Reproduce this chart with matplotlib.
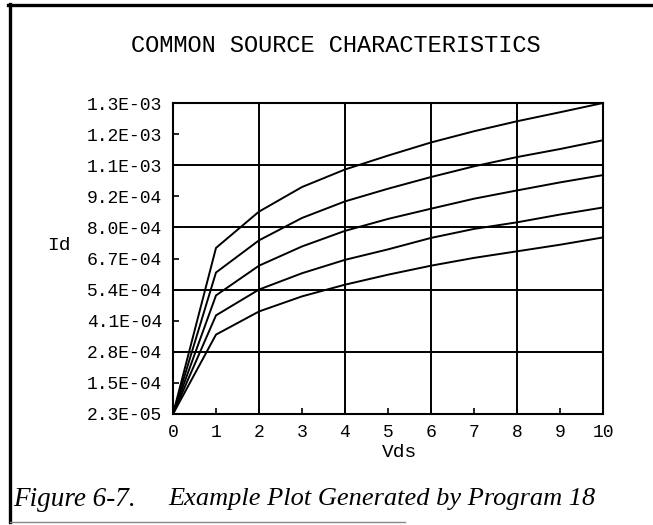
import numpy as np
import matplotlib
matplotlib.use("Agg")
import matplotlib.pyplot as plt
from matplotlib.lines import Line2D

# drain voltage steps
vds = [0, 1, 2, 3, 4, 5, 6, 7, 8, 9, 10]

# drain current for each gate bias, top curve first
id_1 = [2.3e-5, 7.05e-4, 8.54e-4, 9.55e-4, 1.027e-3, 1.084e-3, 1.138e-3, 1.184e-3, 1.225e-3, 1.262e-3, 1.300e-3]
id_2 = [2.3e-5, 6.04e-4, 7.36e-4, 8.28e-4, 8.96e-4, 9.48e-4, 9.96e-4, 1.040e-3, 1.078e-3, 1.111e-3, 1.147e-3]
id_3 = [2.3e-5, 5.10e-4, 6.32e-4, 7.11e-4, 7.75e-4, 8.24e-4, 8.66e-4, 9.07e-4, 9.41e-4, 9.74e-4, 1.004e-3]
id_4 = [2.3e-5, 4.28e-4, 5.34e-4, 6.01e-4, 6.56e-4, 6.99e-4, 7.46e-4, 7.83e-4, 8.10e-4, 8.42e-4, 8.71e-4]
id_5 = [2.3e-5, 3.49e-4, 4.44e-4, 5.06e-4, 5.54e-4, 5.95e-4, 6.32e-4, 6.64e-4, 6.91e-4, 7.18e-4, 7.48e-4]
curves = [id_1, id_2, id_3, id_4, id_5]

y_min, y_max = 2.3e-5, 1.3e-3
y_labels = ["2.3E-05", "1.5E-04", "2.8E-04", "4.1E-04", "5.4E-04", "6.7E-04",
            "8.0E-04", "9.2E-04", "1.1E-03", "1.2E-03", "1.3E-03"]
x_labels = ["0", "1", "2", "3", "4", "5", "6", "7", "8", "9", "10"]
grid_x = [2, 4, 6, 8]
grid_y_idx = [2, 4, 6, 8]

mono = "Liberation Mono"

fig = plt.figure(figsize=(6.53, 5.25), dpi=100)
ax = fig.add_axes([173 / 653, 1 - 414 / 525, 430 / 653, 311 / 525])

y_ticks = np.linspace(y_min, y_max, len(y_labels))

for gx in grid_x:
    ax.axvline(gx, color="black", lw=1.4, zorder=1)
for i in grid_y_idx:
    ax.axhline(y_ticks[i], color="black", lw=1.4, zorder=1)

for c in curves:
    ax.plot(vds, c, color="black", lw=1.4, zorder=2)

ax.set_xlim(0, 10)
ax.set_ylim(y_min, y_max)
ax.set_xticks(vds)
ax.set_xticklabels(x_labels, fontfamily=mono, fontsize=13)
ax.set_yticks(y_ticks)
ax.set_yticklabels(y_labels, fontfamily=mono, fontsize=13)
ax.tick_params(direction="in", length=4.5, width=1.2, color="black")
ax.tick_params(axis="y", pad=8)
ax.tick_params(axis="x", pad=7)
for s in ax.spines.values():
    s.set_linewidth(1.5)

ax.set_xlabel("Vds", fontfamily=mono, fontsize=14)
ax.xaxis.set_label_coords(0.526, -0.095)

fig.text(59 / 653, 1 - 245 / 525, "Id", fontfamily=mono, fontsize=14,
         ha="center", va="center")
fig.text(336 / 653, 1 - 45 / 525, "COMMON SOURCE CHARACTERISTICS",
         fontfamily=mono, fontsize=17, ha="center", va="center")

# page frame and caption
fig.add_artist(Line2D([8 / 653, 1.0], [1 - 5 / 525, 1 - 5 / 525], color="black", lw=2.4))
fig.add_artist(Line2D([10 / 653, 10 / 653], [1 - 4 / 525, 1 - 522 / 525], color="black", lw=2.4))
fig.add_artist(Line2D([10 / 653, 0.62], [1 - 522 / 525, 1 - 522 / 525], color="#888888", lw=1.0))

cap_y = 1 - 505.5 / 525
fig.text(13 / 653, cap_y, "Figure 6-7.", fontfamily="Liberation Serif", style="italic",
         fontsize=19.5, va="baseline")
fig.text(168 / 653, cap_y, "Example Plot Generated by Program 18", fontfamily="Liberation Serif",
         style="italic", fontsize=19, va="baseline")

fig.savefig("out.png", dpi=100)
